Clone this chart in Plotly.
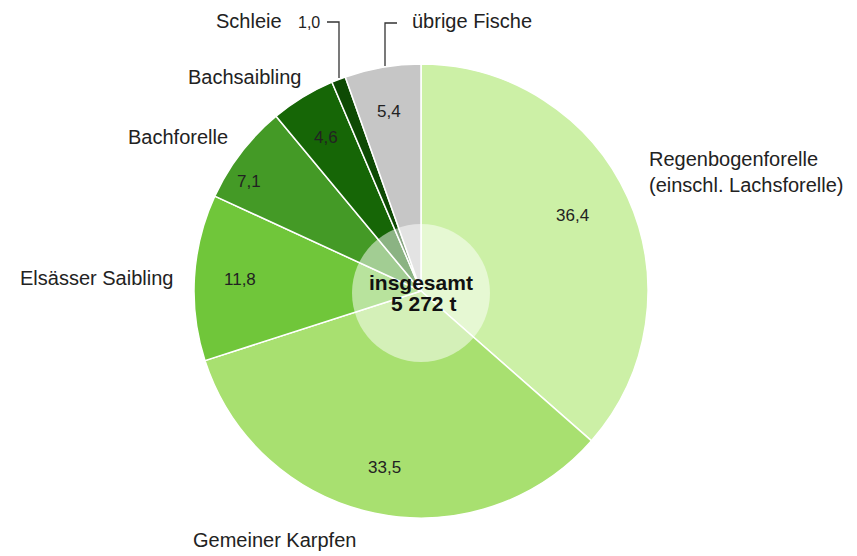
import plotly.graph_objects as go

W, H = 857, 556
OFF = 8  # browser body margin
FW, FH = W - OFF, H - OFF

categories = ["Regenbogenforelle<br>(einschl. Lachsforelle)", "Gemeiner Karpfen", "Elsässer Saibling",
              "Bachforelle", "Bachsaibling", "Schleie", "übrige Fische"]
values = [36.4, 33.5, 11.8, 7.1, 4.6, 1.0, 5.4]
value_labels = ["36,4", "33,5", "11,8", "7,1", "4,6", "1,0", "5,4"]
colors = ["#CCF0A6", "#A8E070", "#70C63A", "#449A26", "#166606", "#0E4A04", "#C6C6C6"]
total_lines = ["insgesamt", "5 272 t"]

def px(x):
    return (x - OFF) / FW

def py(y):
    return 1 - (y - OFF) / FH

FONT = "Liberation Sans, Arial, Helvetica, sans-serif"
TXT = "#222222"

fig = go.Figure(go.Pie(
    labels=categories,
    values=values,
    sort=False,
    direction="clockwise",
    rotation=0,
    marker=dict(colors=colors, line=dict(color="white", width=1.5)),
    textinfo="none",
    hoverinfo="label+value",
    domain=dict(x=[px(194), px(648)], y=[py(518), py(64)]),
    showlegend=False,
))

annotations = []
# value labels inside slices (pixel positions)
val_pos = [(572, 215), (384, 467), (240, 279), (249, 181), (326, 137), None, (389, 111)]
for lbl, pos in zip(value_labels, val_pos):
    if pos is None:
        continue
    annotations.append(dict(x=px(pos[0]), y=py(pos[1]), xref="paper", yref="paper", text=lbl,
                            showarrow=False, font=dict(size=17, color=TXT, family=FONT),
                            xanchor="center", yanchor="middle"))

# category labels outside
cat_pos = [
    (647, 172, "left"),
    (191, 540, "left"),
    (175, 278, "right"),
    (230, 137, "right"),
    (303, 77, "right"),
    (284, 21, "right"),
    (410, 21, "left"),
]
for cat, (x, y, anc) in zip(categories, cat_pos):
    annotations.append(dict(x=px(x), y=py(y), xref="paper", yref="paper", text=cat,
                            showarrow=False, font=dict(size=20, color=TXT, family=FONT),
                            xanchor=anc, yanchor="middle", align="left"))
# Schleie value outside
annotations.append(dict(x=px(296), y=py(22), xref="paper", yref="paper", text=value_labels[5],
                        showarrow=False, font=dict(size=16, color=TXT, family=FONT),
                        xanchor="left", yanchor="middle"))
# center total
for line, (x, y) in zip(total_lines, [(421, 282), (423, 303)]):
    annotations.append(dict(x=px(x), y=py(y), xref="paper", yref="paper", text="<b>" + line + "</b>",
                            showarrow=False, font=dict(size=21, color="#111111", family=FONT),
                            xanchor="center", yanchor="middle"))

shapes = [
    dict(type="circle", xref="paper", yref="paper", x0=px(352), x1=px(490), y0=py(362), y1=py(224),
         fillcolor="rgba(255,255,255,0.5)", line=dict(width=0), layer="above"),
    dict(type="path", xref="paper", yref="paper",
         path=f"M {px(327)},{py(22)} L {px(339)},{py(22)} L {px(339)},{py(78)}",
         line=dict(color="#333333", width=1.3), layer="above"),
    dict(type="path", xref="paper", yref="paper",
         path=f"M {px(397)},{py(23)} L {px(385)},{py(23)} L {px(385)},{py(66)}",
         line=dict(color="#333333", width=1.3), layer="above"),
]

fig.update_layout(
    width=FW, height=FH,
    margin=dict(l=0, r=0, t=0, b=0),
    paper_bgcolor="white", plot_bgcolor="white",
    annotations=annotations, shapes=shapes,
)

fig.write_html("out.html")
